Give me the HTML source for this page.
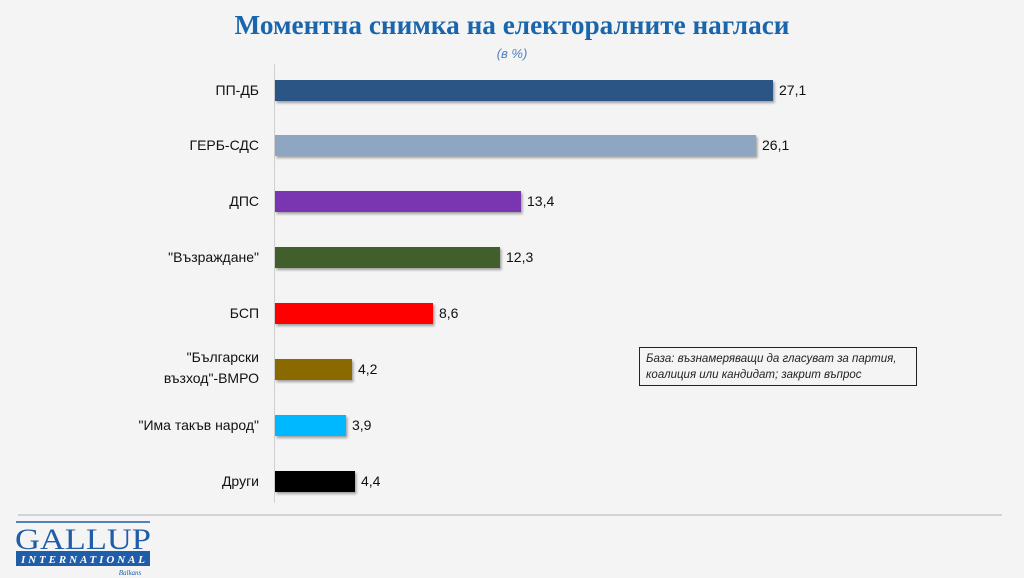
<!DOCTYPE html>
<html><head><meta charset="utf-8"><style>
html,body{margin:0;padding:0;background:#f4f4f4;}
svg{display:block}
</style></head><body>
<svg width="1024" height="578" viewBox="0 0 1024 578" xmlns="http://www.w3.org/2000/svg">
<defs><filter id="sh" x="-5%" y="-20%" width="110%" height="160%"><feDropShadow dx="1.5" dy="2" stdDeviation="1.2" flood-color="#000" flood-opacity="0.35"/></filter></defs>
<rect width="1024" height="578" fill="#f4f4f4"/>
<text x="512" y="34" text-anchor="middle" font-family="Liberation Serif, serif" font-weight="bold" font-size="27" fill="#1a66ad" textLength="555" lengthAdjust="spacingAndGlyphs">Моментна снимка на електоралните нагласи</text>
<text x="512" y="58" text-anchor="middle" font-family="Liberation Sans, sans-serif" font-style="italic" font-size="13" fill="#4f81bd">(в %)</text>
<line x1="274.5" y1="64" x2="274.5" y2="503" stroke="#d0d0d0" stroke-width="1"/>
<g font-family="Liberation Sans, sans-serif" font-size="14" fill="#111">
<g filter="url(#sh)">
<rect x="275" y="80" width="498" height="21" fill="#2a5585"/>
<rect x="275" y="135" width="481" height="21" fill="#8fa6c2"/>
<rect x="275" y="191" width="246" height="21" fill="#7a35b0"/>
<rect x="275" y="247" width="225" height="21" fill="#3f5f2b"/>
<rect x="275" y="303" width="158" height="21" fill="#ff0000"/>
<rect x="275" y="359" width="77" height="21" fill="#8a6a00"/>
<rect x="275" y="415" width="71" height="21" fill="#00b8ff"/>
<rect x="275" y="471" width="80" height="21" fill="#000"/>
</g>
<g text-anchor="start">
<text x="779" y="95">27,1</text>
<text x="762" y="150">26,1</text>
<text x="527" y="206">13,4</text>
<text x="506" y="262">12,3</text>
<text x="439" y="318">8,6</text>
<text x="358" y="374">4,2</text>
<text x="352" y="430">3,9</text>
<text x="361" y="486">4,4</text>
</g>
<g text-anchor="end">
<text x="259" y="95">ПП-ДБ</text>
<text x="259" y="150">ГЕРБ-СДС</text>
<text x="259" y="206">ДПС</text>
<text x="259" y="262">"Възраждане"</text>
<text x="259" y="318">БСП</text>
<text x="259" y="362">"Български</text>
<text x="259" y="383">възход"-ВМРО</text>
<text x="259" y="430">"Има такъв народ"</text>
<text x="259" y="486">Други</text>
</g>
</g>
<rect x="639.5" y="347.5" width="277" height="38" fill="#f4f4f4" stroke="#222" stroke-width="1"/>
<text x="646" y="362" font-family="Liberation Sans, sans-serif" font-style="italic" font-size="11.5" fill="#222">База: възнамеряващи да гласуват за партия,</text>
<text x="646" y="378" font-family="Liberation Sans, sans-serif" font-style="italic" font-size="11.5" fill="#222">коалиция или кандидат; закрит въпрос</text>
<line x1="18" y1="515" x2="1002" y2="515" stroke="#c8c8c8" stroke-width="1.5"/>
<line x1="16" y1="522" x2="150" y2="522" stroke="#1f5da8" stroke-width="1.5"/>
<text x="83" y="549" text-anchor="middle" font-family="Liberation Serif, serif" font-size="30" fill="#1f5da8" textLength="136" lengthAdjust="spacingAndGlyphs">GALLUP</text>
<rect x="16" y="551" width="134" height="15" fill="#1f5da8"/>
<text x="83" y="563" text-anchor="middle" font-family="Liberation Serif, serif" font-style="italic" font-weight="bold" font-size="11" fill="#fff" textLength="124" lengthAdjust="spacing">INTERNATIONAL</text>
<text x="130" y="575" text-anchor="middle" font-family="Liberation Serif, serif" font-style="italic" font-size="7" fill="#1f5da8">Balkans</text>
</svg>
</body></html>
